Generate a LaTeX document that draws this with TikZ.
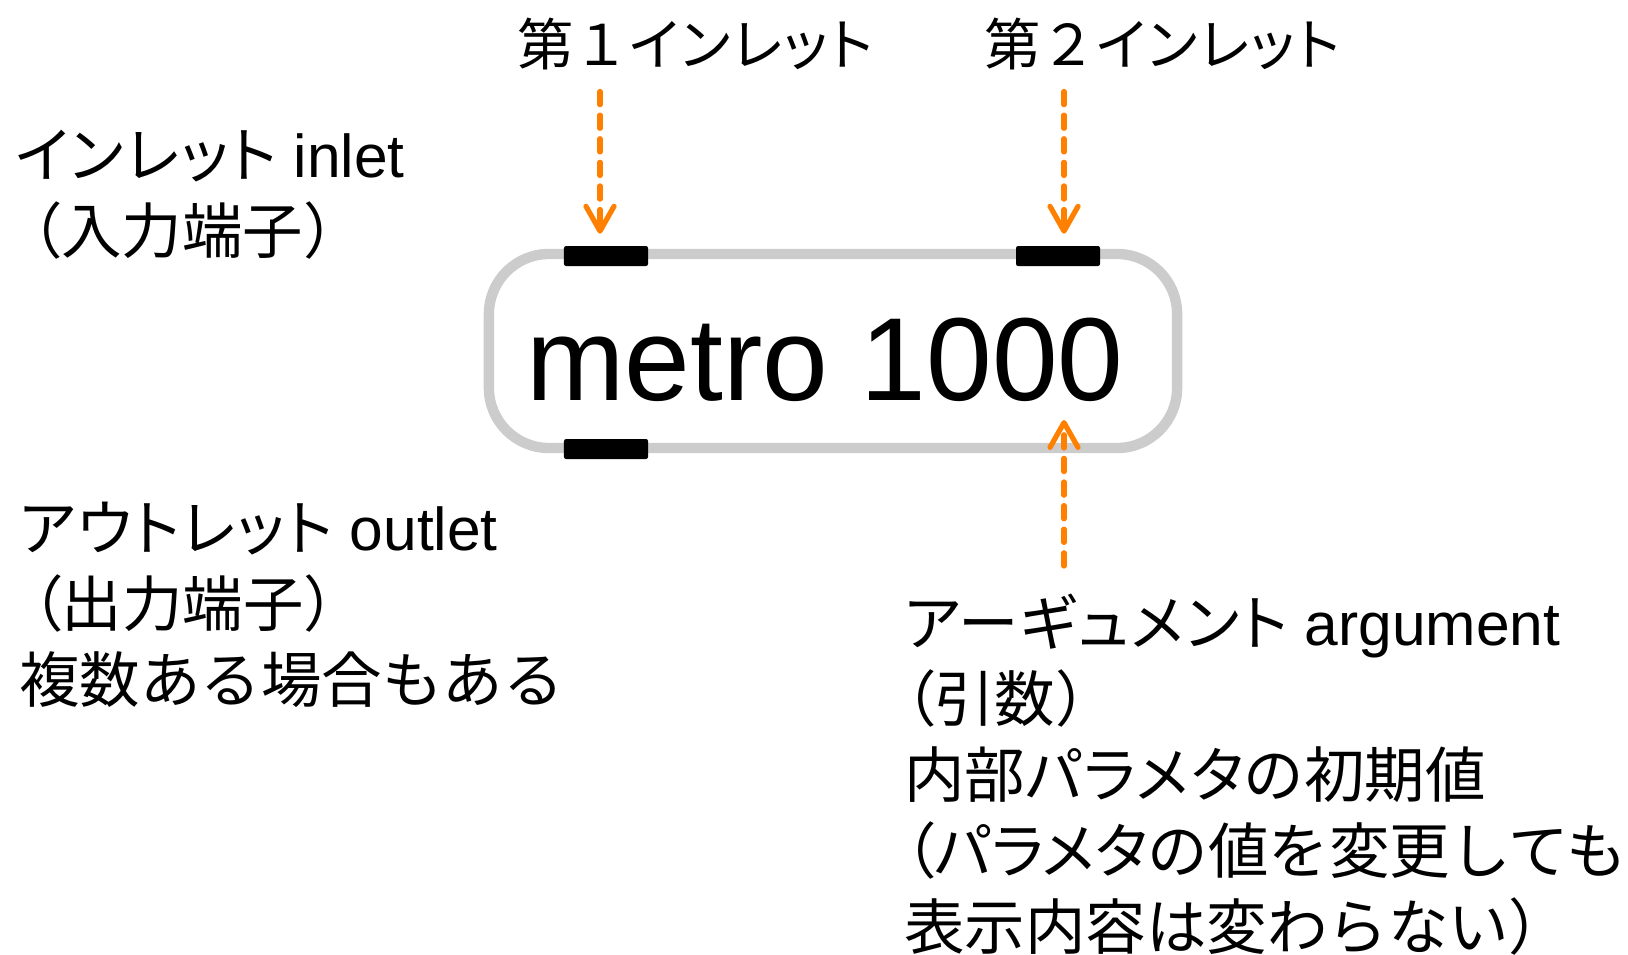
\documentclass[tikz,border=0pt]{standalone}
\usepackage{fontspec}
\setmainfont{Liberation Sans}
\newfontfamily\jp{Noto Sans CJK JP}
\newfontfamily\jk[RawFeature=+palt, LetterSpace=3]{Noto Sans CJK JP}
\newfontfamily\jkn[RawFeature=+palt]{Noto Sans CJK JP}
\usetikzlibrary{arrows.meta,positioning}

\definecolor{maxorange}{HTML}{FF8000}
\definecolor{boxgray}{HTML}{CCCCCC}

\tikzset{
  objbox/.style={draw=boxgray, line width=0.26cm, rounded corners=1.5cm,
    minimum width=17.2cm, minimum height=4.85cm, inner sep=0pt},
  objtext/.style={inner sep=0pt, font=\fontsize{84}{84}\selectfont},
  port/.style={fill=black, minimum width=2.1cm, minimum height=0.5cm,
    inner sep=0pt, rounded corners=1.5pt},
  titletext/.style={inner sep=0pt, anchor=west, font=\fontsize{40}{40}\selectfont},
  notetext/.style={inner sep=0pt, anchor=north west, align=left,
    font=\fontsize{43}{54}\selectfont},
  feed/.style={draw=maxorange, line width=0.13cm, line cap=round,
    dash pattern=on 0.33cm off 0.26cm,
    -{Straight Barb[length=0.62cm, width=0.7cm, round]}},
}

\begin{document}
\begin{tikzpicture}[x=0.025cm, y=-0.025cm]
  \useasboundingbox (0,0) rectangle (1628,954);

  % the object box
  \node[objbox] (obj) at (833,351) {};
  \node[objtext, anchor=base] (objname) at (825,400) {metro 1000};
  \node[port] (in1) at (606,256) {};
  \node[port] (in2) at (1058,256) {};
  \node[port] (out1) at (606,449) {};

  % inlet titles
  \node[titletext] (title1) at (517,44) {{\jp 第１}{\jk インレット}};
  \node[titletext] (title2) at (984,44) {{\jp 第２}{\jk インレット}};

  % notes
  \node[notetext] (inl) at (15,130)
    {{\jk インレット} inlet\\\hspace*{0.26em}{\jkn （}{\jp 入力端子）}};
  \node[notetext] (outl) at (19,502)
    {{\jk アウトレット} outlet\\\hspace*{0.2em}{\jkn （}{\jp 出力端子）}\\{\jp 複数ある場合もある}};
  \node[notetext] (args) at (904,594)
    {{\jk アーギュメント} argument\\{\jkn （}{\jp 引数）}\\
     {\jp 内部}{\jk パラメタ}{\jp の初期値}\\
     {\jkn （パラメタ}{\jp の値を変更しても}\\
     {\jp 表示内容は変わらない）}};

  \coordinate (tip1) at ([xshift=-0.15cm, yshift=0.3cm]in1.north);
  \coordinate (tip2) at ([xshift=0.15cm, yshift=0.3cm]in2.north);
  \coordinate (argtip) at (1064,420);

  \draw[feed, shorten <=0.53cm] (title1.south -| tip1) -- (tip1);
  \draw[feed, shorten <=0.53cm] (title2.south -| tip2) -- (tip2);
  \draw[feed, shorten <=0.7cm] (args.north -| argtip) -- (argtip);
\end{tikzpicture}
\end{document}
